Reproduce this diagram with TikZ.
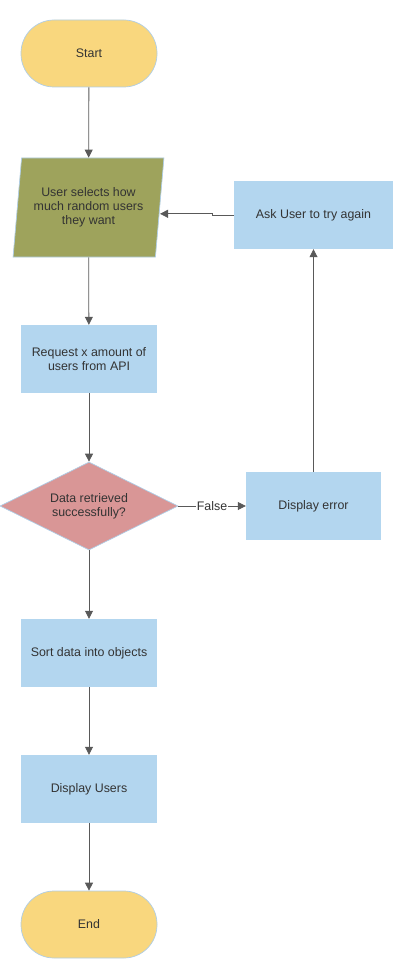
\documentclass[tikz,border=0pt]{standalone}
\usepackage{fontspec}
\setmainfont{Liberation Sans}
\usetikzlibrary{shapes.geometric,arrows.meta}
\definecolor{termfill}{HTML}{F9D77E}
\definecolor{olivefill}{HTML}{9EA35C}
\definecolor{bluefill}{HTML}{B3D6EF}
\definecolor{redfill}{HTML}{D99696}
\definecolor{edgeblue}{HTML}{AFCDE6}
\definecolor{txt}{HTML}{333333}
\definecolor{linegray}{HTML}{595959}
\tikzset{
  base/.style={text=txt, font=\fontsize{12.4}{14}\selectfont, align=center, inner sep=0pt},
  term/.style={base, rectangle, rounded corners=33pt, fill=termfill, draw=edgeblue, line width=0.7pt, minimum width=136pt, minimum height=67pt},
  procbox/.style={base, rectangle, fill=bluefill, minimum width=136pt, minimum height=68pt},
  iobox/.style={base, trapezium, trapezium left angle=80, trapezium right angle=100, trapezium stretches=true, fill=olivefill, draw=edgeblue, line width=0.7pt, minimum width=151pt, minimum height=99pt},
  decbox/.style={base, diamond, aspect=2, fill=redfill, draw=edgeblue, line width=0.7pt, minimum width=178pt, minimum height=88pt},
  conn/.style={draw=linegray, line width=0.8pt, -{Triangle[length=8pt,width=8pt]}},
  lbl/.style={base, fill=white, inner sep=1pt}
}
\begin{document}
\begin{tikzpicture}[x=1pt,y=-1pt]
\useasboundingbox (0,0) rectangle (400,968);
\node[term] (start) at (89,53.5) {Start};
\node[iobox] (select) at (88.5,207.5) {User selects how\\much random users\\they want};
\node[procbox, minimum width=159pt] (ask) at (313.5,215) {Ask User to try again};
\node[procbox] (request) at (89,359) {Request x amount of\\users from API};
\node[decbox] (dec) at (89,506) {Data retrieved\\successfully?};
\node[procbox, minimum width=135pt] (err) at (313.5,506) {Display error};
\node[procbox] (sort) at (89,653) {Sort data into objects};
\node[procbox] (disp) at (89,789) {Display Users};
\node[term] (end) at (89,924.5) {End};
\coordinate (jog) at (212,215);

\draw[conn] (start) -- (select);
\draw[conn] (select) -- (request);
\draw[conn] (request) -- (dec);
\draw[conn] (dec) -- (sort);
\draw[conn] (sort) -- (disp);
\draw[conn] (disp) -- (end);
\draw[conn] (dec.east) -- node[lbl] (f) {False} (err.west);
\draw[conn] (err.north) -- (ask.south);
\draw[conn] (ask.west) -- (jog) -- ++(0,-1.2) -- (select.east |- {0,213.8});
\end{tikzpicture}
\end{document}
